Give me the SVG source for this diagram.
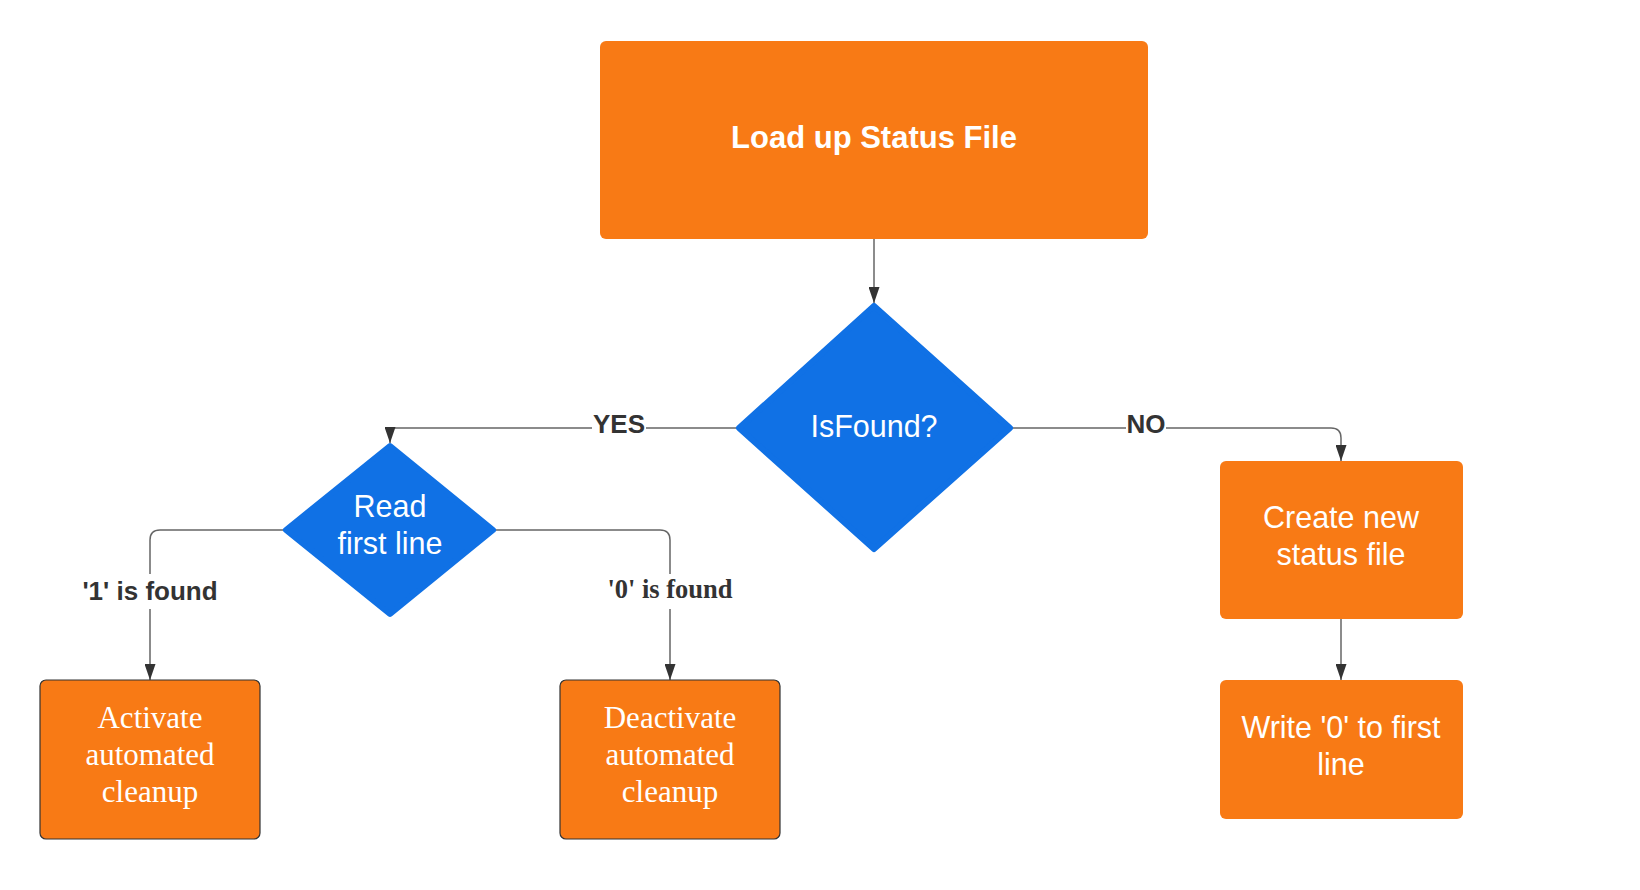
<svg xmlns="http://www.w3.org/2000/svg" width="1640" height="890" viewBox="0 0 1640 890">
  <defs>
    <marker id="arrow" viewBox="0 0 16 11" refX="16" refY="5.5" markerWidth="16" markerHeight="11" markerUnits="userSpaceOnUse" orient="auto">
      <path d="M0,0 L16,5.5 L0,11 z" fill="#333333"/>
    </marker>
    <style>
      .proc { fill: #F87A15; }
      .proc-out { fill: #F87A15; stroke: #333333; stroke-width: 1.2; }
      .dec { fill: #1071E5; stroke: #1071E5; stroke-width: 6; stroke-linejoin: round; }
      .wt { fill: #FFFFFF; font-family: "Liberation Sans", Arial, sans-serif; font-size: 30.5px; text-anchor: middle; }
      .wt-bold { font-weight: bold; font-size: 31px; }
      .ws { fill: #FFFFFF; font-family: "Liberation Serif", "Times New Roman", serif; font-size: 31px; text-anchor: middle; }
      .conn { fill: none; stroke: #666666; stroke-width: 1.5; marker-end: url(#arrow); }
      .lbl-bg { fill: #FFFFFF; }
      .lbl { fill: #333333; font-family: "Liberation Sans", Arial, sans-serif; font-size: 26px; font-weight: bold; text-anchor: middle; }
      .lbl-serif { fill: #333333; font-family: "Liberation Serif", "Times New Roman", serif; font-size: 26.5px; font-weight: bold; text-anchor: middle; }
    </style>
  </defs>
  <rect width="1640" height="890" fill="#FFFFFF"/>

  <g id="connectors">
    <path class="conn" d="M874,239 V303"/>
    <path class="conn" d="M736,428 H390 V443"/>
    <path class="conn" d="M1013,428 H1331 Q1341,428 1341,438 V461"/>
    <path class="conn" d="M283,530 H160 Q150,530 150,540 V680"/>
    <path class="conn" d="M496,530 H660 Q670,530 670,540 V680"/>
    <path class="conn" d="M1341,619 V680"/>
    <g id="label-yes">
      <rect class="lbl-bg" x="592" y="414" width="54" height="24"/>
      <text class="lbl" x="619" y="433">YES</text>
    </g>
    <g id="label-no">
      <rect class="lbl-bg" x="1126" y="414" width="40" height="24"/>
      <text class="lbl" x="1146" y="433">NO</text>
    </g>
    <g id="label-1">
      <rect class="lbl-bg" x="80" y="574" width="140" height="35"/>
      <text class="lbl" x="150" y="600">'1' is found</text>
    </g>
    <g id="label-0">
      <rect class="lbl-bg" x="606" y="574" width="128" height="35"/>
      <text class="lbl-serif" x="670" y="598">'0' is found</text>
    </g>
  </g>

  <g id="load-status">
    <rect class="proc" x="600" y="41" width="548" height="198" rx="6"/>
    <text class="wt wt-bold" x="874" y="148">Load up Status File</text>
  </g>

  <g id="is-found">
    <polygon class="dec" points="874,306 1010,428 874,549 739,428"/>
    <text class="wt" x="874" y="437">IsFound?</text>
  </g>

  <g id="read-first-line">
    <polygon class="dec" points="390,446 493,530 390,614 286,530"/>
    <text class="wt" x="390" y="517">Read</text>
    <text class="wt" x="390" y="554">first line</text>
  </g>

  <g id="activate">
    <rect class="proc-out" x="40" y="680" width="220" height="159" rx="6"/>
    <text class="ws" x="150" y="728">Activate</text>
    <text class="ws" x="150" y="765">automated</text>
    <text class="ws" x="150" y="802">cleanup</text>
  </g>

  <g id="deactivate">
    <rect class="proc-out" x="560" y="680" width="220" height="159" rx="6"/>
    <text class="ws" x="670" y="728">Deactivate</text>
    <text class="ws" x="670" y="765">automated</text>
    <text class="ws" x="670" y="802">cleanup</text>
  </g>

  <g id="create-status">
    <rect class="proc" x="1220" y="461" width="243" height="158" rx="6"/>
    <text class="wt" x="1341" y="528">Create new</text>
    <text class="wt" x="1341" y="565">status file</text>
  </g>

  <g id="write-zero">
    <rect class="proc" x="1220" y="680" width="243" height="139" rx="6"/>
    <text class="wt" x="1341" y="738">Write '0' to first</text>
    <text class="wt" x="1341" y="775">line</text>
  </g>
</svg>
